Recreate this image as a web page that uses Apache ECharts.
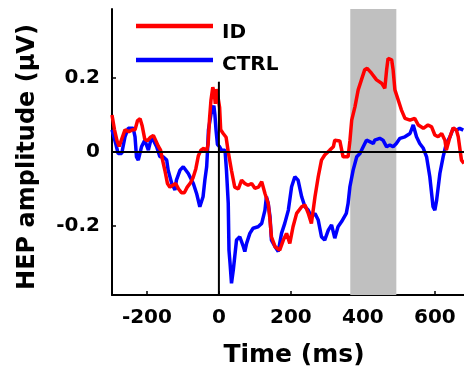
<!DOCTYPE html>
<html>
<head>
<meta charset="utf-8">
<script src="https://cdn.jsdelivr.net/npm/echarts@6/dist/echarts.min.js"></script>
<style>html,body{margin:0;padding:0;background:#fff}#c{width:464px;height:374px}</style>
</head>
<body>
<div id="c"></div>
<script>
var xTicks = [-200, 0, 200, 400, 600];
var yTicks = [-0.2, 0, 0.2];
var bandRange = [365, 493];

var idTime = [-297,-290,-283,-277,-270,-261,-250,-240,-233,-226,-219,-213,-206,-199,-190,-182,-175,-168,-162,-157,-150,-143,-136,-128,-120,-112,-104,-96,-88,-80,-72,-64,-57,-50,-42,-35,-30,-26,-22,-17,-13,-10,-6,-2,2,5,12,20,26,35,44,54,63,72,81,91,100,110,119,128,137,142,146,156,169,179,188,197,206,216,230,239,248,257,267,276,285,294,308,318,322,327,336,345,359,364,369,378,387,396,405,412,424,438,452,461,466,470,480,484,489,498,507,517,531,544,554,568,581,591,600,609,619,628,632,642,651,660,665,674,681];
var idValue = [0.10,0.06,0.03,0.015,0.035,0.06,0.055,0.06,0.06,0.085,0.09,0.07,0.035,0.03,0.04,0.045,0.03,0.015,0.005,-0.02,-0.05,-0.085,-0.095,-0.09,-0.085,-0.1,-0.11,-0.11,-0.095,-0.085,-0.07,-0.045,-0.01,0.005,0.01,0.0,0.02,0.09,0.14,0.175,0.16,0.13,0.17,0.175,0.12,0.06,0.05,0.04,0.0,-0.05,-0.095,-0.1,-0.076,-0.085,-0.09,-0.085,-0.098,-0.095,-0.08,-0.112,-0.139,-0.184,-0.229,-0.256,-0.265,-0.238,-0.22,-0.247,-0.202,-0.166,-0.148,-0.143,-0.165,-0.193,-0.121,-0.067,-0.022,-0.008,0.005,0.014,0.032,0.037,0.03,-0.013,-0.013,0.03,0.086,0.122,0.168,0.195,0.222,0.226,0.213,0.195,0.186,0.172,0.222,0.253,0.249,0.222,0.168,0.141,0.114,0.091,0.086,0.091,0.073,0.064,0.073,0.068,0.046,0.041,0.05,0.032,0.005,0.041,0.065,0.059,0.041,-0.022,-0.031];

var ctrlTime = [-297,-293,-286,-280,-270,-261,-252,-238,-233,-229,-224,-215,-206,-196,-187,-173,-164,-155,-145,-141,-131,-122,-118,-108,-99,-85,-71,-62,-53,-44,-39,-34,-32,-29,-24,-20,-14,-11,-8,-4,2,7,17,21,26,28,31,35,40,44,49,58,68,72,77,86,95,109,119,128,132,137,142,146,156,165,174,183,193,202,211,220,230,239,248,257,267,276,285,294,304,313,322,331,341,354,359,364,373,383,392,401,410,419,429,433,447,456,466,475,484,493,503,517,531,540,549,558,568,577,586,595,600,605,614,623,632,642,651,660,669,679];
var ctrlValue = [0.06,0.055,0.02,-0.004,-0.004,0.041,0.064,0.064,0.041,-0.013,-0.022,0.014,0.032,0.005,0.041,0.014,-0.013,-0.013,-0.022,-0.049,-0.085,-0.103,-0.076,-0.049,-0.04,-0.058,-0.085,-0.112,-0.148,-0.121,-0.076,-0.04,-0.004,0.06,0.09,0.114,0.125,0.1,0.06,0.02,0.014,0.005,0.005,-0.049,-0.139,-0.265,-0.301,-0.355,-0.319,-0.283,-0.238,-0.229,-0.256,-0.269,-0.247,-0.22,-0.206,-0.202,-0.193,-0.157,-0.121,-0.139,-0.175,-0.238,-0.256,-0.269,-0.22,-0.193,-0.157,-0.094,-0.067,-0.076,-0.121,-0.148,-0.157,-0.175,-0.166,-0.184,-0.229,-0.238,-0.211,-0.197,-0.233,-0.202,-0.188,-0.166,-0.139,-0.094,-0.049,-0.013,-0.004,0.014,0.032,0.028,0.023,0.032,0.037,0.032,0.014,0.019,0.014,0.023,0.037,0.041,0.05,0.073,0.041,0.023,0.01,-0.013,-0.067,-0.148,-0.157,-0.13,-0.058,-0.013,0.023,0.041,0.064,0.059,0.064,0.059];

var xMin = -297, xMax = 681, yMin = -0.3865, yMax = 0.3865;
var stimTop = 0.19;

function pairs(t, v) { return t.map(function (x, i) { return [x, v[i]]; }); }

var chart = echarts.init(document.getElementById('c'));
var tickFont = { fontFamily: 'DejaVu Sans', fontWeight: 'bold', fontSize: 20, color: '#000' };
chart.setOption({
  animation: false,
  grid: { left: 112, right: 0, top: 9, bottom: 79, containLabel: false, outerBoundsMode: 'none' },
  xAxis: {
    type: 'value', min: xMin, max: xMax,
    axisLine: { show: true, onZero: false, lineStyle: { color: '#000', width: 2 } },
    axisTick: { show: true, inside: true, length: 4, customValues: xTicks, lineStyle: { color: '#000', width: 1.5 } },
    axisLabel: Object.assign({ customValues: xTicks, margin: 13 }, tickFont),
    splitLine: { show: false }
  },
  yAxis: {
    type: 'value', min: yMin, max: yMax,
    axisLine: { show: true, onZero: false, lineStyle: { color: '#000', width: 2 } },
    axisTick: { show: true, inside: true, length: 4, customValues: yTicks, lineStyle: { color: '#000', width: 1.5 } },
    axisLabel: Object.assign({ customValues: yTicks, margin: 12, formatter: function (v) { return String(Math.round(v * 10) / 10); } }, tickFont),
    splitLine: { show: false }
  },
  graphic: [
    { type: 'line', shape: { x1: 136, y1: 26, x2: 213, y2: 26 }, style: { stroke: '#ff0000', lineWidth: 4.5 } },
    { type: 'line', shape: { x1: 136, y1: 60, x2: 213, y2: 60 }, style: { stroke: '#0000ff', lineWidth: 4.5 } },
    { type: 'text', x: 222, y: 33, style: { text: 'ID', font: 'bold 20px "DejaVu Sans"', fill: '#000', verticalAlign: 'middle', align: 'left' } },
    { type: 'text', x: 222, y: 65, style: { text: 'CTRL', font: 'bold 20px "DejaVu Sans"', fill: '#000', verticalAlign: 'middle', align: 'left' } },
    { type: 'text', x: 294, y: 355, style: { text: 'Time (ms)', font: 'bold 25px "DejaVu Sans"', fill: '#000', verticalAlign: 'middle', align: 'center' } },
    { type: 'text', x: 28, y: 157, rotation: Math.PI / 2, style: { text: 'HEP amplitude (\u00b5V)', font: 'bold 24px "DejaVu Sans"', fill: '#000', verticalAlign: 'middle', align: 'center' } }
  ],
  series: [
    {
      type: 'line', data: [], silent: true,
      markArea: { silent: true, itemStyle: { color: '#c0c0c0', opacity: 1 }, data: [[{ xAxis: bandRange[0] }, { xAxis: bandRange[1] }]] }
    },
    { name: 'CTRL', type: 'line', data: pairs(ctrlTime, ctrlValue), showSymbol: false, lineStyle: { color: '#0000ff', width: 3.5 }, itemStyle: { color: '#0000ff' }, z: 3 },
    { name: 'ID', type: 'line', data: pairs(idTime, idValue), showSymbol: false, lineStyle: { color: '#ff0000', width: 3.5 }, itemStyle: { color: '#ff0000' }, z: 4 },
    { type: 'line', data: [[xMin, 0], [xMax, 0]], showSymbol: false, silent: true, lineStyle: { color: '#000', width: 2 }, z: 5 },
    { type: 'line', data: [[0, yMin], [0, stimTop]], showSymbol: false, silent: true, lineStyle: { color: '#000', width: 2 }, z: 5 }
  ]
});
</script>
</body>
</html>
